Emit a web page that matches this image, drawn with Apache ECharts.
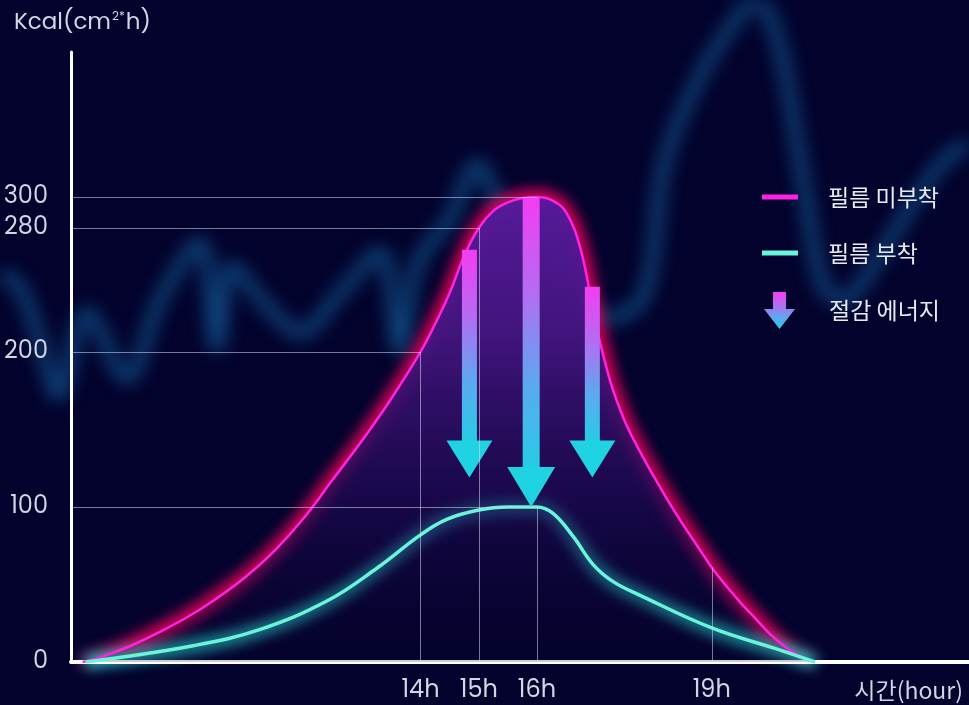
<!DOCTYPE html>
<html><head><meta charset="utf-8">
<script src="https://cdn.jsdelivr.net/npm/echarts@6/dist/echarts.min.js"></script>
<style>
html,body{margin:0;padding:0;background:#03032d;overflow:hidden;}
.layer{position:absolute;left:0;top:0;width:969px;height:705px;}
#bgtrend{filter:blur(9px);}
#glow{filter:blur(7px);}
</style>
</head><body>
<div id="bgtrend" class="layer"></div>
<div id="glow" class="layer"></div>
<div id="chart" class="layer"></div>
<script>
// ---- data ----
const seriesNames = ['필름 미부착', '필름 부착', '절감 에너지'];
const pinkHours  = [8.2, 8.5, 9, 9.5, 10, 10.5, 11, 11.5, 12, 12.5, 13, 13.5, 14, 14.25, 14.5, 14.75, 15, 15.25, 15.5, 15.75, 16, 16.25, 16.5, 16.75, 17, 17.25, 17.5, 17.75, 18, 18.25, 18.5, 18.75, 19, 19.25, 19.5, 19.75, 20, 20.25, 20.5, 20.77];
const pinkValues = [0, 3, 10, 19, 29, 41, 55, 72, 93, 118, 143, 170, 200, 218, 238, 262, 280, 291, 296.5, 299.3, 300, 298, 290, 266, 220, 182, 156, 137, 120, 104, 89, 75, 61, 49, 38, 28, 18, 10, 4, 0];
const cyanHours  = [8.25, 10.1, 11.25, 12.4, 13.25, 14, 14.45, 15, 15.5, 16, 16.27, 16.62, 16.96, 17.3, 17.77, 19, 20.15, 20.77];
const cyanValues = [0, 10.5, 21, 39.5, 60.5, 82, 92, 98, 100, 100, 96, 81, 63, 52, 43, 22, 8, 0];
const xTickHours = [14, 15, 16, 19];
const yTickValues = [0, 100, 200, 280, 300];
const hGuideValues = [300, 280, 200, 100];
const hGuideEndHours = [16, 15, 14, 16];
const vGuideHours = [14, 15, 16, 19];
const vGuideTopValues = [200, 280, 100, 61];
const arrowHours = [14.84, 15.9, 16.95];
const arrowFrom = [266, 300, 242];
const arrowTo = [119, 100, 119];
// faint decorative market line in the background
const bgTime  = [0, 1.9, 4.1, 6, 9, 13.1, 16.5, 20.6, 22.4, 24, 27.6, 31, 34.8, 39.2, 41.3, 43.1, 46.4, 49.3, 52, 55.7, 59.3, 62.4, 66.4, 68.6, 72.1, 75.2, 78, 80.3, 82.7, 84.9, 86.9, 90.8, 94.2, 97.3, 100];
const bgLevel = [61, 59.6, 51.8, 44, 55.6, 46.4, 57.4, 65.5, 50.8, 62.1, 56.5, 52.8, 57.9, 64.1, 50.4, 62.7, 68.8, 76.6, 70.2, 67.4, 58.9, 54.8, 57.9, 77, 88.8, 95.7, 100, 94.2, 76, 59.6, 57.4, 63.8, 71.2, 77, 79.7];

// ---- shared layout ----
const numFont = "Poppins, 'Noto Sans', 'Noto Sans CJK KR', sans-serif";
const korFont = "'Noto Sans CJK KR', 'Noto Sans', sans-serif";
const labelColor = '#d4d4e2';
const pinkColor = '#ff22e2';
const cyanColor = '#6af4da';
const mainGrid = { left: 71, right: 0, top: 52, bottom: 43 };
const xRange = { min: 8, max: 23.416 };
const yRange = { min: 0, max: 393.5 };
const pinkData = pinkHours.map((h, i) => [h, pinkValues[i]]);
const cyanData = cyanHours.map((h, i) => [h, cyanValues[i]]);

const shaftGradient = () => new echarts.graphic.LinearGradient(0, 0, 0, 1, [
  { offset: 0, color: '#f43cf2' },
  { offset: 0.35, color: '#b46cf2' },
  { offset: 0.7, color: '#5aaaf0' },
  { offset: 1, color: '#26cce4' }
]);
const hiddenAxes = (extra) => ({
  xAxis: { type: 'value', show: false, ...xRange },
  yAxis: { type: 'value', show: false, ...yRange },
  ...extra
});

// ---- background decorative trend (blurred) ----
echarts.init(document.getElementById('bgtrend')).setOption({
  animation: false,
  grid: { left: 0, right: 0, top: 0, bottom: 0 },
  xAxis: { type: 'value', min: 0, max: 100, show: false },
  yAxis: { type: 'value', min: 0, max: 100, show: false },
  series: [{ type: 'line', silent: true, showSymbol: false, smooth: 0.35,
    data: bgTime.map((t, i) => [t, bgLevel[i]]),
    lineStyle: { color: 'rgba(22,110,175,0.68)', width: 11 } }]
});

// ---- glow halo of the two curves (blurred) ----
echarts.init(document.getElementById('glow')).setOption(hiddenAxes({
  animation: false,
  grid: mainGrid,
  series: [
    { type: 'line', silent: true, showSymbol: false, smooth: 0.4, data: pinkData,
      lineStyle: { color: 'rgba(255,0,95,0.95)', width: 14 } },
    { type: 'line', silent: true, showSymbol: false, smooth: 0.4, data: cyanData,
      lineStyle: { color: 'rgba(40,230,220,0.95)', width: 12 } }
  ]
}));

// ---- main chart ----
const hGuides = hGuideValues.map((v, i) => [{ coord: [xRange.min, v] }, { coord: [hGuideEndHours[i], v] }]);
const vGuides = vGuideHours.map((h, i) => [{ coord: [h, 0] }, { coord: [h, vGuideTopValues[i]] }]);
const legendText = { fontSize: 23, color: '#e8e8f0', fontFamily: korFont, lineHeight: 30 };

echarts.init(document.getElementById('chart')).setOption({
  animation: false,
  backgroundColor: 'transparent',
  title: [
    { text: '{a|Kcal(cm}{s|2*}{a|h)}', left: 9, top: 6,
      textStyle: { rich: {
        a: { fontSize: 23, fontWeight: 'normal', color: labelColor, fontFamily: numFont },
        s: { fontSize: 12, fontWeight: 'normal', color: labelColor, fontFamily: numFont, verticalAlign: 'top', padding: [0, 1, 12, 1] }
      } } },
    { text: '시간(hour)', right: 1, top: 674,
      textStyle: { fontSize: 23, fontWeight: 'normal', color: labelColor, fontFamily: korFont } }
  ],
  legend: [
    { data: [{ name: seriesNames[0], icon: 'rect', itemStyle: { color: pinkColor } }],
      left: 757, top: 177, itemWidth: 36, itemHeight: 5, selectedMode: false,
      textStyle: { ...legendText, padding: [0, 0, 0, 25] } },
    { data: [{ name: seriesNames[1], icon: 'rect', itemStyle: { color: cyanColor } }],
      left: 757, top: 233, itemWidth: 36, itemHeight: 5, selectedMode: false,
      textStyle: { ...legendText, padding: [0, 0, 0, 25] } },
    { data: [{ name: seriesNames[2], icon: 'path://M9,0 H22 V17 H31 L15.5,37 L0,17 H9 Z',
               itemStyle: { color: shaftGradient() } }],
      left: 759, top: 287, itemWidth: 31, itemHeight: 37, selectedMode: false,
      textStyle: { ...legendText, padding: [0, 0, 0, 29] } }
  ],
  grid: mainGrid,
  xAxis: { type: 'value', ...xRange,
    axisLine: { show: true, lineStyle: { color: '#ffffff', width: 4 } },
    axisTick: { show: false }, splitLine: { show: false },
    axisLabel: { customValues: xTickHours, formatter: v => v + 'h', fontSize: 24, margin: 17,
                 color: labelColor, fontFamily: numFont } },
  yAxis: { type: 'value', ...yRange,
    axisLine: { show: true, lineStyle: { color: '#ffffff', width: 3 } },
    axisTick: { show: false }, splitLine: { show: false },
    axisLabel: { customValues: yTickValues, fontSize: 24, margin: 23,
                 color: labelColor, fontFamily: numFont } },
  series: [
    { name: seriesNames[0], type: 'line', z: 2, showSymbol: false, smooth: 0.4, data: pinkData,
      itemStyle: { color: pinkColor },
      lineStyle: { color: pinkColor, width: 2.5 },
      areaStyle: { opacity: 1, color: new echarts.graphic.LinearGradient(0, 0, 0, 1, [
        { offset: 0, color: 'rgba(88,26,156,0.97)' },
        { offset: 0.3, color: 'rgba(68,21,128,0.95)' },
        { offset: 0.65, color: 'rgba(32,10,84,0.75)' },
        { offset: 1, color: 'rgba(10,4,46,0.2)' }
      ]) },
      markLine: { silent: true, symbol: 'none', label: { show: false },
        lineStyle: { color: 'rgba(215,215,235,0.55)', width: 1, type: 'solid' },
        data: hGuides.concat(vGuides) } },
    { name: seriesNames[1], type: 'line', z: 3, showSymbol: false, smooth: 0.4, data: cyanData,
      itemStyle: { color: cyanColor },
      lineStyle: { color: cyanColor, width: 3.5 } },
    { name: seriesNames[2], type: 'custom', z: 4, silent: true,
      itemStyle: { color: shaftGradient() },
      encode: { x: 0, y: [1, 2] },
      data: arrowHours.map((h, i) => [h, arrowFrom[i], arrowTo[i]]),
      renderItem: function (params, api) {
        const h = api.value(0);
        const top = api.coord([h, api.value(1)]);
        const tip = api.coord([h, api.value(2)]);
        const big = params.dataIndex === 1;
        const shaftW = big ? 17 : 15, headW = big ? 48 : 46, headH = big ? 40 : 37;
        const x = top[0];
        const baseY = tip[1] - headH;
        return { type: 'group', children: [
          { type: 'rect', shape: { x: x - shaftW / 2, y: top[1], width: shaftW, height: baseY - top[1] + 1 },
            style: { fill: shaftGradient() } },
          { type: 'polygon', shape: { points: [[x - headW / 2, baseY], [x + headW / 2, baseY], [x, tip[1]]] },
            style: { fill: '#1fd3e3' } }
        ] };
      } }
  ]
});
</script></body></html>
